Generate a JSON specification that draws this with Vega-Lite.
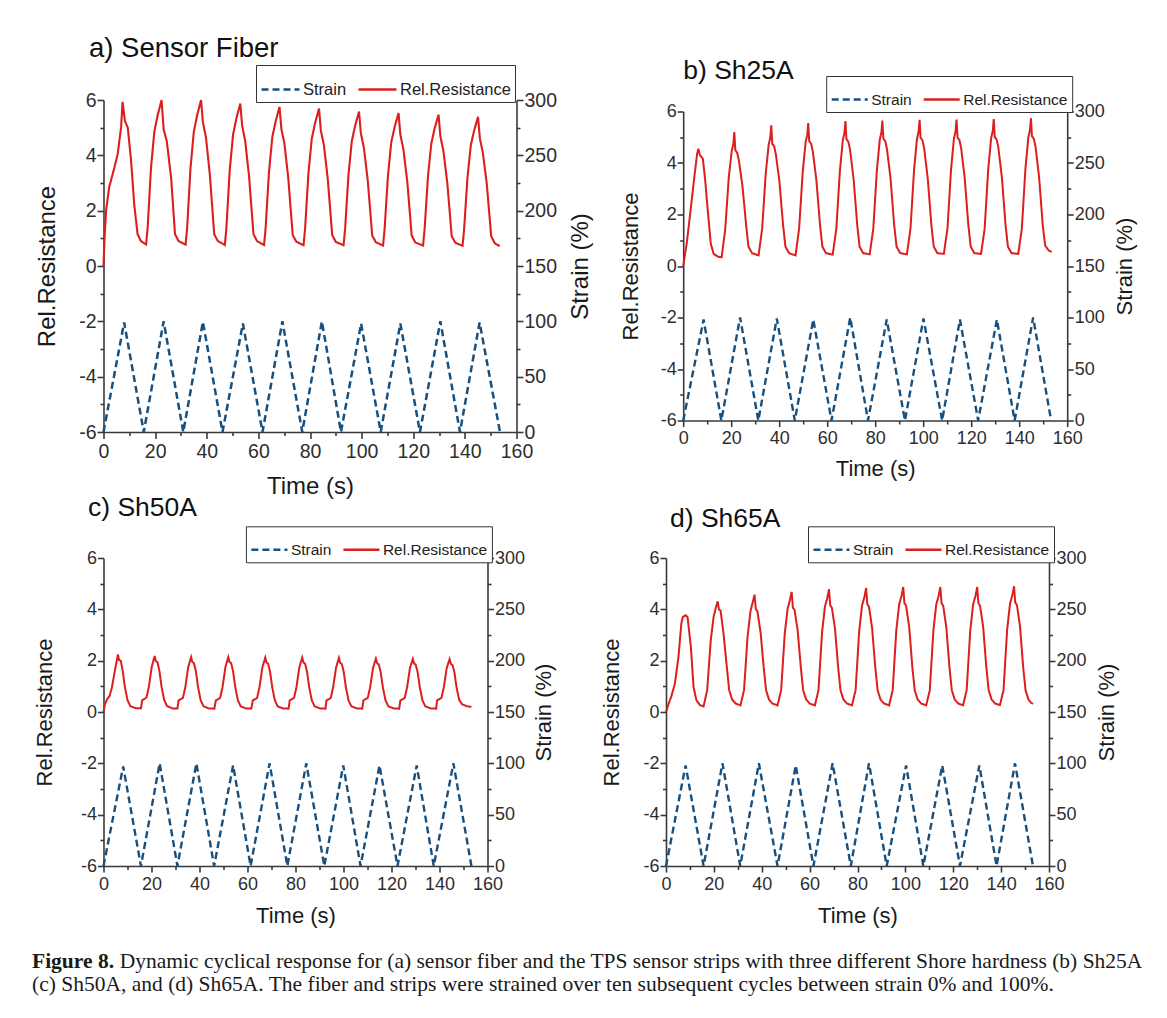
{
  "$schema": "https://vega.github.io/schema/vega-lite/v6.json",
  "padding": {"left": 31.5, "top": 34, "right": 5, "bottom": 5},
  "background": "white",
  "datasets": {
    "ra": [{"t":0,"v":0},{"t":0.4,"v":1.0},{"t":1.0,"v":2.0},{"t":2.2,"v":2.85},{"t":4.2,"v":3.55},{"t":5.5,"v":4.05},{"t":6.8,"v":5.0},{"t":7.4,"v":5.93},{"t":8.3,"v":5.24},{"t":9.4,"v":5.0},{"t":10.7,"v":3.8},{"t":11.9,"v":2.23},{"t":13.2,"v":1.15},{"t":14.5,"v":0.9},{"t":16.5,"v":0.78},
      {"t":17.1,"v":1.38},{"t":18.4,"v":3.55},{"t":19.7,"v":4.86},{"t":21.0,"v":5.46},{"t":22.5,"v":6.0},{"t":23.3,"v":4.94},{"t":24.5,"v":4.52},{"t":26.2,"v":3.19},{"t":27.7,"v":1.15},{"t":29.1,"v":0.9},{"t":31.8,"v":0.77},
      {"t":32.4,"v":1.37},{"t":33.7,"v":3.54},{"t":35.0,"v":4.86},{"t":36.3,"v":5.46},{"t":37.8,"v":6.0},{"t":38.5,"v":5.2},{"t":39.7,"v":4.65},{"t":41.2,"v":3.3},{"t":42.9,"v":1.15},{"t":44.3,"v":0.9},{"t":47.0,"v":0.76},
      {"t":47.6,"v":1.36},{"t":48.9,"v":3.46},{"t":50.2,"v":4.75},{"t":51.5,"v":5.34},{"t":53.0,"v":5.87},{"t":53.7,"v":5.08},{"t":54.9,"v":4.52},{"t":56.4,"v":3.23},{"t":58.1,"v":1.15},{"t":59.5,"v":0.9},{"t":62.2,"v":0.76},
      {"t":62.8,"v":1.36},{"t":64.1,"v":3.39},{"t":65.4,"v":4.66},{"t":66.7,"v":5.23},{"t":68.2,"v":5.75},{"t":68.9,"v":4.96},{"t":70.1,"v":4.42},{"t":71.6,"v":3.16},{"t":73.3,"v":1.12},{"t":74.7,"v":0.88},{"t":77.5,"v":0.75},
      {"t":78.1,"v":1.35},{"t":79.4,"v":3.36},{"t":80.7,"v":4.61},{"t":82.0,"v":5.18},{"t":83.5,"v":5.69},{"t":84.2,"v":4.9},{"t":85.4,"v":4.36},{"t":86.9,"v":3.13},{"t":88.6,"v":1.12},{"t":90.0,"v":0.87},{"t":93.0,"v":0.75},
      {"t":93.6,"v":1.34},{"t":94.9,"v":3.29},{"t":96.2,"v":4.52},{"t":97.5,"v":5.08},{"t":99.0,"v":5.58},{"t":99.7,"v":4.8},{"t":100.9,"v":4.26},{"t":102.4,"v":3.07},{"t":104.1,"v":1.1},{"t":105.5,"v":0.86},{"t":108.3,"v":0.74},
      {"t":108.9,"v":1.33},{"t":110.2,"v":3.26},{"t":111.5,"v":4.48},{"t":112.8,"v":5.03},{"t":114.3,"v":5.53},{"t":115.0,"v":4.75},{"t":116.2,"v":4.21},{"t":117.7,"v":3.04},{"t":119.4,"v":1.1},{"t":120.8,"v":0.85},{"t":123.8,"v":0.74},
      {"t":124.4,"v":1.33},{"t":125.7,"v":3.23},{"t":127.0,"v":4.43},{"t":128.3,"v":4.98},{"t":129.8,"v":5.47},{"t":130.5,"v":4.7},{"t":131.7,"v":4.15},{"t":133.2,"v":3.0},{"t":134.9,"v":1.08},{"t":136.3,"v":0.84},{"t":139.1,"v":0.73},
      {"t":139.7,"v":1.32},{"t":141.0,"v":3.18},{"t":142.3,"v":4.37},{"t":143.6,"v":4.9},{"t":145.1,"v":5.39},{"t":145.8,"v":4.62},{"t":147.0,"v":4.07},{"t":148.5,"v":2.96},{"t":150.2,"v":1.08},{"t":151.6,"v":0.82},{"t":153.5,"v":0.72}],
    "sa": [{"t":0,"v":0},{"t":8.0,"v":99},{"t":15.6,"v":0},{"t":23.3,"v":100},{"t":30.9,"v":0},{"t":38.5,"v":99.5},{"t":46.1,"v":0},{"t":54.0,"v":98},{"t":61.6,"v":0},{"t":69.3,"v":100},{"t":77.0,"v":0},{"t":84.6,"v":100},{"t":92.0,"v":0},{"t":99.8,"v":98},{"t":107.4,"v":0},{"t":115.0,"v":98},{"t":122.6,"v":0},{"t":130.5,"v":100},{"t":138.1,"v":0},{"t":145.7,"v":99},{"t":153.6,"v":0}],
    "rb": [{"t":0,"v":0},{"t":1.5,"v":0.9},{"t":3.0,"v":2.1},{"t":4.8,"v":3.58},{"t":5.8,"v":4.36},{"t":6.3,"v":4.55},{"t":7.0,"v":4.3},{"t":8.2,"v":4.16},{"t":9.2,"v":3.3},{"t":10.0,"v":2.4},{"t":11.5,"v":0.86},{"t":12.7,"v":0.47},{"t":14.5,"v":0.36},{"t":16.0,"v":0.34},
      {"t":17.5,"v":1.4},{"t":19.0,"v":3.45},{"t":20.2,"v":4.45},{"t":20.9,"v":4.75},{"t":21.3,"v":5.2},{"t":21.7,"v":4.5},{"t":22.5,"v":4.4},{"t":23.2,"v":4.1},{"t":24.7,"v":3.1},{"t":26.2,"v":1.6},{"t":27.2,"v":0.75},{"t":28.7,"v":0.5},{"t":31.4,"v":0.41},
      {"t":32.9,"v":1.45},{"t":34.4,"v":3.6},{"t":35.6,"v":4.7},{"t":36.3,"v":5.0},{"t":36.7,"v":5.46},{"t":37.1,"v":4.75},{"t":37.9,"v":4.65},{"t":38.6,"v":4.35},{"t":40.1,"v":3.28},{"t":41.6,"v":1.6},{"t":42.6,"v":0.75},{"t":44.1,"v":0.5},{"t":46.8,"v":0.41},
      {"t":48.3,"v":1.45},{"t":49.8,"v":3.65},{"t":51.0,"v":4.8},{"t":51.7,"v":5.1},{"t":52.1,"v":5.55},{"t":52.5,"v":4.85},{"t":53.3,"v":4.75},{"t":54.0,"v":4.45},{"t":55.5,"v":3.33},{"t":57.0,"v":1.6},{"t":58.0,"v":0.75},{"t":59.5,"v":0.5},{"t":62.3,"v":0.44},
      {"t":63.8,"v":1.45},{"t":65.3,"v":3.7},{"t":66.5,"v":4.88},{"t":67.2,"v":5.18},{"t":67.6,"v":5.63},{"t":68.0,"v":4.93},{"t":68.8,"v":4.83},{"t":69.5,"v":4.53},{"t":71.0,"v":3.38},{"t":72.5,"v":1.6},{"t":73.5,"v":0.75},{"t":75.0,"v":0.5},{"t":77.7,"v":0.45},
      {"t":79.2,"v":1.45},{"t":80.7,"v":3.72},{"t":81.9,"v":4.9},{"t":82.6,"v":5.2},{"t":83.0,"v":5.65},{"t":83.4,"v":4.95},{"t":84.2,"v":4.85},{"t":84.9,"v":4.55},{"t":86.4,"v":3.39},{"t":87.9,"v":1.6},{"t":88.9,"v":0.75},{"t":90.4,"v":0.5},{"t":93.2,"v":0.45},
      {"t":94.7,"v":1.45},{"t":96.2,"v":3.74},{"t":97.4,"v":4.93},{"t":98.1,"v":5.23},{"t":98.5,"v":5.68},{"t":98.9,"v":4.98},{"t":99.7,"v":4.88},{"t":100.4,"v":4.58},{"t":101.9,"v":3.4},{"t":103.4,"v":1.6},{"t":104.4,"v":0.75},{"t":105.9,"v":0.5},{"t":108.6,"v":0.47},
      {"t":110.1,"v":1.45},{"t":111.6,"v":3.75},{"t":112.8,"v":4.94},{"t":113.5,"v":5.24},{"t":113.9,"v":5.69},{"t":114.3,"v":4.99},{"t":115.1,"v":4.89},{"t":115.8,"v":4.59},{"t":117.3,"v":3.41},{"t":118.8,"v":1.6},{"t":119.8,"v":0.75},{"t":121.3,"v":0.5},{"t":124.1,"v":0.47},
      {"t":125.6,"v":1.45},{"t":127.1,"v":3.77},{"t":128.3,"v":4.96},{"t":129.0,"v":5.26},{"t":129.4,"v":5.71},{"t":129.8,"v":5.01},{"t":130.6,"v":4.91},{"t":131.3,"v":4.61},{"t":132.8,"v":3.43},{"t":134.3,"v":1.6},{"t":135.3,"v":0.75},{"t":136.8,"v":0.5},{"t":139.6,"v":0.47},
      {"t":141.1,"v":1.45},{"t":142.6,"v":3.79},{"t":143.8,"v":4.99},{"t":144.5,"v":5.29},{"t":144.9,"v":5.74},{"t":145.3,"v":5.04},{"t":146.1,"v":4.94},{"t":146.8,"v":4.64},{"t":148.3,"v":3.44},{"t":149.8,"v":1.6},{"t":150.8,"v":0.8},{"t":152.3,"v":0.6},{"t":153.5,"v":0.55}],
    "sb": [{"t":0,"v":0},{"t":8.5,"v":98},{"t":15.9,"v":0},{"t":23.7,"v":100},{"t":31.3,"v":0},{"t":39.0,"v":99},{"t":46.5,"v":0},{"t":54.2,"v":98},{"t":61.8,"v":0},{"t":69.6,"v":100},{"t":77.0,"v":0},{"t":84.8,"v":98},{"t":92.4,"v":0},{"t":100.1,"v":99},{"t":107.9,"v":0},{"t":115.3,"v":98},{"t":122.9,"v":0},{"t":130.7,"v":98},{"t":138.1,"v":0},{"t":145.8,"v":100},{"t":153.3,"v":0}],
    "rc": [{"t":0,"v":0},{"t":0.6,"v":0.3},{"t":1.5,"v":0.5},{"t":2.5,"v":0.62},{"t":3.5,"v":0.95},{"t":4.8,"v":1.65},{"t":6.0,"v":2.24},{"t":6.5,"v":2.02},{"t":7.2,"v":2.0},{"t":8.0,"v":1.6},{"t":8.9,"v":0.98},{"t":10.0,"v":0.46},{"t":11.2,"v":0.23},{"t":13.4,"v":0.15},{"t":15.6,"v":0.14},
      {"t":16.1,"v":0.46},{"t":17.9,"v":0.56},{"t":18.9,"v":0.98},{"t":20.1,"v":1.76},{"t":21.3,"v":2.18},{"t":21.8,"v":1.98},{"t":22.5,"v":1.94},{"t":23.3,"v":1.6},{"t":24.2,"v":0.98},{"t":25.3,"v":0.46},{"t":26.5,"v":0.23},{"t":28.7,"v":0.14},{"t":30.8,"v":0.14},
      {"t":31.3,"v":0.45},{"t":33.1,"v":0.55},{"t":34.1,"v":0.97},{"t":35.3,"v":1.75},{"t":36.5,"v":2.14},{"t":37.0,"v":1.95},{"t":37.7,"v":1.9},{"t":38.5,"v":1.58},{"t":39.4,"v":0.97},{"t":40.5,"v":0.45},{"t":41.7,"v":0.22},{"t":43.9,"v":0.14},{"t":46.2,"v":0.13},
      {"t":46.8,"v":0.45},{"t":48.6,"v":0.55},{"t":49.6,"v":0.97},{"t":50.8,"v":1.75},{"t":52.0,"v":2.14},{"t":52.5,"v":1.95},{"t":53.2,"v":1.9},{"t":54.0,"v":1.58},{"t":54.9,"v":0.97},{"t":56.0,"v":0.45},{"t":57.2,"v":0.22},{"t":59.4,"v":0.14},{"t":61.6,"v":0.13},
      {"t":62.2,"v":0.45},{"t":64.0,"v":0.55},{"t":65.0,"v":0.97},{"t":66.2,"v":1.74},{"t":67.4,"v":2.12},{"t":67.9,"v":1.93},{"t":68.6,"v":1.88},{"t":69.4,"v":1.57},{"t":70.3,"v":0.97},{"t":71.4,"v":0.45},{"t":72.6,"v":0.22},{"t":74.8,"v":0.14},{"t":77.1,"v":0.13},
      {"t":77.6,"v":0.45},{"t":79.4,"v":0.55},{"t":80.4,"v":0.97},{"t":81.6,"v":1.74},{"t":82.8,"v":2.12},{"t":83.3,"v":1.93},{"t":84.0,"v":1.88},{"t":84.8,"v":1.57},{"t":85.7,"v":0.97},{"t":86.8,"v":0.45},{"t":88.0,"v":0.22},{"t":90.2,"v":0.14},{"t":92.5,"v":0.13},
      {"t":92.9,"v":0.45},{"t":94.7,"v":0.55},{"t":95.7,"v":0.97},{"t":96.9,"v":1.73},{"t":98.1,"v":2.11},{"t":98.6,"v":1.92},{"t":99.3,"v":1.87},{"t":100.1,"v":1.56},{"t":101.0,"v":0.96},{"t":102.1,"v":0.45},{"t":103.3,"v":0.22},{"t":105.5,"v":0.14},{"t":107.8,"v":0.13},
      {"t":108.3,"v":0.45},{"t":110.1,"v":0.55},{"t":111.1,"v":0.96},{"t":112.3,"v":1.72},{"t":113.5,"v":2.08},{"t":114.0,"v":1.9},{"t":114.7,"v":1.85},{"t":115.5,"v":1.55},{"t":116.4,"v":0.96},{"t":117.5,"v":0.45},{"t":118.7,"v":0.22},{"t":120.9,"v":0.14},{"t":123.2,"v":0.13},
      {"t":123.7,"v":0.45},{"t":125.5,"v":0.55},{"t":126.5,"v":0.96},{"t":127.7,"v":1.72},{"t":128.9,"v":2.07},{"t":129.4,"v":1.89},{"t":130.1,"v":1.84},{"t":130.9,"v":1.55},{"t":131.8,"v":0.96},{"t":132.9,"v":0.45},{"t":134.1,"v":0.22},{"t":136.3,"v":0.14},{"t":138.6,"v":0.13},
      {"t":139.0,"v":0.45},{"t":140.8,"v":0.55},{"t":141.8,"v":0.96},{"t":143.0,"v":1.71},{"t":144.2,"v":2.06},{"t":144.7,"v":1.88},{"t":145.4,"v":1.83},{"t":146.2,"v":1.55},{"t":147.1,"v":0.96},{"t":148.2,"v":0.47},{"t":149.4,"v":0.3},{"t":151.5,"v":0.22},{"t":153.3,"v":0.2}],
    "sc": [{"t":0,"v":0},{"t":8.2,"v":97},{"t":15.6,"v":0},{"t":23.4,"v":100},{"t":30.8,"v":0},{"t":38.7,"v":100},{"t":46.1,"v":0},{"t":54.0,"v":98},{"t":61.3,"v":0},{"t":69.2,"v":100},{"t":76.6,"v":0},{"t":84.5,"v":100},{"t":92.0,"v":0},{"t":99.9,"v":98},{"t":107.1,"v":0},{"t":115.0,"v":98},{"t":122.5,"v":0},{"t":130.5,"v":98},{"t":137.6,"v":0},{"t":145.8,"v":100},{"t":153.3,"v":0}],
    "rd": [{"t":0,"v":0},{"t":1.2,"v":0.35},{"t":2.2,"v":0.6},{"t":3.7,"v":1.1},{"t":5.2,"v":2.14},{"t":6.4,"v":3.44},{"t":7.0,"v":3.7},{"t":8.2,"v":3.77},{"t":9.0,"v":3.7},{"t":10.4,"v":2.53},{"t":11.5,"v":0.98},{"t":12.7,"v":0.46},{"t":14.2,"v":0.27},{"t":15.7,"v":0.22},
      {"t":17.2,"v":0.85},{"t":18.7,"v":2.8},{"t":19.9,"v":3.71},{"t":20.9,"v":4.1},{"t":21.6,"v":4.31},{"t":22.1,"v":4.0},{"t":22.8,"v":3.95},{"t":24.1,"v":3.0},{"t":25.4,"v":1.76},{"t":26.4,"v":0.85},{"t":27.6,"v":0.49},{"t":29.1,"v":0.33},{"t":31.1,"v":0.26},
      {"t":32.6,"v":0.85},{"t":34.1,"v":2.97},{"t":35.3,"v":3.93},{"t":36.3,"v":4.3},{"t":37.0,"v":4.57},{"t":37.5,"v":4.02},{"t":38.2,"v":3.92},{"t":39.5,"v":3.11},{"t":40.8,"v":1.76},{"t":41.8,"v":0.85},{"t":43.0,"v":0.49},{"t":44.5,"v":0.33},{"t":46.6,"v":0.26},
      {"t":48.1,"v":0.85},{"t":49.6,"v":3.04},{"t":50.8,"v":4.02},{"t":51.8,"v":4.38},{"t":52.5,"v":4.68},{"t":53.0,"v":4.07},{"t":53.7,"v":3.98},{"t":55.0,"v":3.18},{"t":56.3,"v":1.76},{"t":57.3,"v":0.85},{"t":58.5,"v":0.49},{"t":60.0,"v":0.33},{"t":62.2,"v":0.26},
      {"t":63.7,"v":0.85},{"t":65.2,"v":3.11},{"t":66.4,"v":4.11},{"t":67.4,"v":4.45},{"t":68.1,"v":4.78},{"t":68.6,"v":4.16},{"t":69.3,"v":4.06},{"t":70.6,"v":3.25},{"t":71.9,"v":1.76},{"t":72.9,"v":0.85},{"t":74.1,"v":0.49},{"t":75.6,"v":0.33},{"t":77.7,"v":0.26},
      {"t":79.2,"v":0.85},{"t":80.7,"v":3.14},{"t":81.9,"v":4.15},{"t":82.9,"v":4.49},{"t":83.6,"v":4.83},{"t":84.1,"v":4.2},{"t":84.8,"v":4.1},{"t":86.1,"v":3.28},{"t":87.4,"v":1.76},{"t":88.4,"v":0.85},{"t":89.6,"v":0.49},{"t":91.1,"v":0.33},{"t":93.2,"v":0.26},
      {"t":94.7,"v":0.85},{"t":96.2,"v":3.17},{"t":97.4,"v":4.19},{"t":98.4,"v":4.53},{"t":99.1,"v":4.87},{"t":99.6,"v":4.24},{"t":100.3,"v":4.14},{"t":101.6,"v":3.31},{"t":102.9,"v":1.76},{"t":103.9,"v":0.85},{"t":105.1,"v":0.49},{"t":106.6,"v":0.33},{"t":108.7,"v":0.26},
      {"t":110.2,"v":0.85},{"t":111.7,"v":3.17},{"t":112.9,"v":4.19},{"t":113.9,"v":4.53},{"t":114.6,"v":4.87},{"t":115.1,"v":4.24},{"t":115.8,"v":4.14},{"t":117.1,"v":3.31},{"t":118.4,"v":1.76},{"t":119.4,"v":0.85},{"t":120.6,"v":0.49},{"t":122.1,"v":0.33},{"t":124.1,"v":0.26},
      {"t":125.6,"v":0.85},{"t":127.1,"v":3.17},{"t":128.3,"v":4.19},{"t":129.3,"v":4.53},{"t":130.0,"v":4.87},{"t":130.5,"v":4.24},{"t":131.2,"v":4.14},{"t":132.5,"v":3.31},{"t":133.8,"v":1.76},{"t":134.8,"v":0.85},{"t":136.0,"v":0.49},{"t":137.5,"v":0.33},{"t":139.5,"v":0.27},
      {"t":141.0,"v":0.85},{"t":142.5,"v":3.19},{"t":143.7,"v":4.21},{"t":144.7,"v":4.56},{"t":145.4,"v":4.9},{"t":145.9,"v":4.26},{"t":146.6,"v":4.17},{"t":147.9,"v":3.33},{"t":149.2,"v":1.76},{"t":150.2,"v":0.85},{"t":151.4,"v":0.49},{"t":152.5,"v":0.36},{"t":153.3,"v":0.32}],
    "sd": [{"t":0,"v":0},{"t":8.2,"v":98},{"t":15.7,"v":0},{"t":23.6,"v":100},{"t":31.0,"v":0},{"t":38.8,"v":100},{"t":46.6,"v":0},{"t":54.2,"v":98},{"t":61.6,"v":0},{"t":69.6,"v":100},{"t":77.2,"v":0},{"t":84.8,"v":100},{"t":92.2,"v":0},{"t":100.3,"v":98},{"t":107.5,"v":0},{"t":115.4,"v":98},{"t":122.8,"v":0},{"t":130.9,"v":98},{"t":138.1,"v":0},{"t":145.8,"v":100},{"t":153.3,"v":0}]
  },
  "vconcat": [
    {
      "hconcat": [
        {
          "width": 413, "height": 332,
          "title": {"text": "a) Sensor Fiber", "anchor": "start", "frame": "group", "dx": -14.5, "offset": 2.5, "fontSize": 27.5},
          "layer": [
            {"data": {"name": "ra"}, "mark": {"type": "line", "strokeWidth": 2.1},
             "encoding": {
               "x": {"field": "t", "type": "quantitative", "scale": {"domain": [0, 160], "nice": false},
                     "axis": {"title": "Time (s)", "values": [0,10,20,30,40,50,60,70,80,90,100,110,120,130,140,150,160], "labelExpr": "datum.value % 20 === 0 ? '' + datum.value : ''", "tickSize": {"condition": {"test": "datum.value % 20 === 0", "value": 6.5}, "value": 3.5}, "labelFontSize": 19.5, "labelPadding": 4, "titleFontSize": 24, "titlePadding": 13}},
               "y": {"field": "v", "type": "quantitative", "scale": {"domain": [-6, 6], "nice": false},
                     "axis": {"orient": "left", "title": "Rel.Resistance", "values": [-6,-5,-4,-3,-2,-1,0,1,2,3,4,5,6], "labelExpr": "datum.value % 2 === 0 ? '' + datum.value : ''", "tickSize": {"condition": {"test": "datum.value % 2 === 0", "value": 6.5}, "value": 3.5}, "labelFontSize": 19.5, "titleFontSize": 24, "titlePadding": 19.5}},
               "color": {"datum": "Rel.Resistance", "type": "nominal", "scale": {"domain": ["Strain", "Rel.Resistance"], "range": ["#17507f", "#dc1e1e"]}, "legend": {"orient": "none", "legendX": 152.5, "legendY": -35, "labelFontSize": 16.5, "symbolSize": 1444}},
               "strokeDash": {"datum": "Rel.Resistance", "type": "nominal", "scale": {"domain": ["Strain", "Rel.Resistance"], "range": [[7, 4], [1, 0]]}, "legend": {"orient": "none", "legendX": 152.5, "legendY": -35, "labelFontSize": 16.5, "symbolSize": 1444}}
             }},
            {"data": {"name": "sa"}, "mark": {"type": "line", "strokeWidth": 2.5},
             "encoding": {
               "x": {"field": "t", "type": "quantitative", "scale": {"domain": [0, 160], "nice": false},
                     "axis": {"title": "Time (s)", "values": [0,10,20,30,40,50,60,70,80,90,100,110,120,130,140,150,160], "labelExpr": "datum.value % 20 === 0 ? '' + datum.value : ''", "tickSize": {"condition": {"test": "datum.value % 20 === 0", "value": 6.5}, "value": 3.5}, "labelFontSize": 19.5, "labelPadding": 4, "titleFontSize": 24, "titlePadding": 13}},
               "y": {"field": "v", "type": "quantitative", "scale": {"domain": [0, 300], "nice": false},
                     "axis": {"orient": "right", "title": "Strain (%)", "titleAngle": 270, "titleBaseline": "top", "values": [0,25,50,75,100,125,150,175,200,225,250,275,300], "labelExpr": "datum.value % 50 === 0 ? '' + datum.value : ''", "tickSize": {"condition": {"test": "datum.value % 50 === 0", "value": 6.5}, "value": 3.5}, "labelFontSize": 19.5, "titleFontSize": 24, "titlePadding": 12}},
               "color": {"datum": "Strain", "type": "nominal", "scale": {"domain": ["Strain", "Rel.Resistance"], "range": ["#17507f", "#dc1e1e"]}, "legend": {"orient": "none", "legendX": 152.5, "legendY": -35, "labelFontSize": 16.5, "symbolSize": 1444}},
               "strokeDash": {"datum": "Strain", "type": "nominal", "scale": {"domain": ["Strain", "Rel.Resistance"], "range": [[7, 4], [1, 0]]}, "legend": {"orient": "none", "legendX": 152.5, "legendY": -35, "labelFontSize": 16.5, "symbolSize": 1444}}
             }}
          ],
          "resolve": {"scale": {"y": "independent"}}
        },
        {
          "width": 384, "height": 309,
          "title": {"text": "b) Sh25A", "anchor": "start", "frame": "group", "dx": 0, "offset": -9, "fontSize": 26.5},
          "layer": [
            {"data": {"name": "rb"}, "mark": {"type": "line", "strokeWidth": 2},
             "encoding": {
               "x": {"field": "t", "type": "quantitative", "scale": {"domain": [0, 160], "nice": false},
                     "axis": {"title": "Time (s)", "values": [0,10,20,30,40,50,60,70,80,90,100,110,120,130,140,150,160], "labelExpr": "datum.value % 20 === 0 ? '' + datum.value : ''", "tickSize": {"condition": {"test": "datum.value % 20 === 0", "value": 6}, "value": 3.5}, "labelPadding": 3, "titlePadding": 11}},
               "y": {"field": "v", "type": "quantitative", "scale": {"domain": [-6, 6], "nice": false},
                     "axis": {"orient": "left", "title": "Rel.Resistance", "values": [-6,-5,-4,-3,-2,-1,0,1,2,3,4,5,6], "labelExpr": "datum.value % 2 === 0 ? '' + datum.value : ''", "tickSize": {"condition": {"test": "datum.value % 2 === 0", "value": 6}, "value": 3.5}, "titlePadding": 18}},
               "color": {"datum": "Rel.Resistance", "type": "nominal", "scale": {"domain": ["Strain", "Rel.Resistance"], "range": ["#17507f", "#dc1e1e"]}, "legend": {"orient": "none", "legendX": 143, "legendY": -35.5}},
               "strokeDash": {"datum": "Rel.Resistance", "type": "nominal", "scale": {"domain": ["Strain", "Rel.Resistance"], "range": [[7, 4], [1, 0]]}, "legend": {"orient": "none", "legendX": 143, "legendY": -35.5}}
             }},
            {"data": {"name": "sb"}, "mark": {"type": "line", "strokeWidth": 2.4},
             "encoding": {
               "x": {"field": "t", "type": "quantitative", "scale": {"domain": [0, 160], "nice": false},
                     "axis": {"title": "Time (s)", "values": [0,10,20,30,40,50,60,70,80,90,100,110,120,130,140,150,160], "labelExpr": "datum.value % 20 === 0 ? '' + datum.value : ''", "tickSize": {"condition": {"test": "datum.value % 20 === 0", "value": 6}, "value": 3.5}, "labelPadding": 3, "titlePadding": 11}},
               "y": {"field": "v", "type": "quantitative", "scale": {"domain": [0, 300], "nice": false},
                     "axis": {"orient": "right", "title": "Strain (%)", "titleAngle": 270, "titleBaseline": "top", "values": [0,25,50,75,100,125,150,175,200,225,250,275,300], "labelExpr": "datum.value % 50 === 0 ? '' + datum.value : ''", "tickSize": {"condition": {"test": "datum.value % 50 === 0", "value": 6}, "value": 3.5}, "titlePadding": 10}},
               "color": {"datum": "Strain", "type": "nominal", "scale": {"domain": ["Strain", "Rel.Resistance"], "range": ["#17507f", "#dc1e1e"]}, "legend": {"orient": "none", "legendX": 143, "legendY": -35.5}},
               "strokeDash": {"datum": "Strain", "type": "nominal", "scale": {"domain": ["Strain", "Rel.Resistance"], "range": [[7, 4], [1, 0]]}, "legend": {"orient": "none", "legendX": 143, "legendY": -35.5}}
             }}
          ],
          "resolve": {"scale": {"y": "independent"}}
        }
      ],
      "spacing": 166.7,
      "bounds": "flush",
      "center": true,
      "resolve": {"scale": {"color": "independent", "strokeDash": "independent"}}
    },
    {
      "hconcat": [
        {
          "width": 384, "height": 308,
          "title": {"text": "c) Sh50A", "anchor": "start", "frame": "group", "dx": -15.5, "offset": 4, "fontSize": 26.5},
          "layer": [
            {"data": {"name": "rc"}, "mark": {"type": "line", "strokeWidth": 2},
             "encoding": {
               "x": {"field": "t", "type": "quantitative", "scale": {"domain": [0, 160], "nice": false},
                     "axis": {"title": "Time (s)", "values": [0,10,20,30,40,50,60,70,80,90,100,110,120,130,140,150,160], "labelExpr": "datum.value % 20 === 0 ? '' + datum.value : ''", "tickSize": {"condition": {"test": "datum.value % 20 === 0", "value": 6}, "value": 3.5}, "labelPadding": 3, "titlePadding": 12}},
               "y": {"field": "v", "type": "quantitative", "scale": {"domain": [-6, 6], "nice": false},
                     "axis": {"orient": "left", "title": "Rel.Resistance", "values": [-6,-5,-4,-3,-2,-1,0,1,2,3,4,5,6], "labelExpr": "datum.value % 2 === 0 ? '' + datum.value : ''", "tickSize": {"condition": {"test": "datum.value % 2 === 0", "value": 6}, "value": 3.5}, "titlePadding": 24}},
               "color": {"datum": "Rel.Resistance", "type": "nominal", "scale": {"domain": ["Strain", "Rel.Resistance"], "range": ["#17507f", "#dc1e1e"]}, "legend": {"orient": "none", "legendX": 142.4, "legendY": -31.7}},
               "strokeDash": {"datum": "Rel.Resistance", "type": "nominal", "scale": {"domain": ["Strain", "Rel.Resistance"], "range": [[7, 4], [1, 0]]}, "legend": {"orient": "none", "legendX": 142.4, "legendY": -31.7}}
             }},
            {"data": {"name": "sc"}, "mark": {"type": "line", "strokeWidth": 2.4},
             "encoding": {
               "x": {"field": "t", "type": "quantitative", "scale": {"domain": [0, 160], "nice": false},
                     "axis": {"title": "Time (s)", "values": [0,10,20,30,40,50,60,70,80,90,100,110,120,130,140,150,160], "labelExpr": "datum.value % 20 === 0 ? '' + datum.value : ''", "tickSize": {"condition": {"test": "datum.value % 20 === 0", "value": 6}, "value": 3.5}, "labelPadding": 3, "titlePadding": 12}},
               "y": {"field": "v", "type": "quantitative", "scale": {"domain": [0, 300], "nice": false},
                     "axis": {"orient": "right", "title": "Strain (%)", "titleAngle": 270, "titleBaseline": "top", "values": [0,25,50,75,100,125,150,175,200,225,250,275,300], "labelExpr": "datum.value % 50 === 0 ? '' + datum.value : ''", "tickSize": {"condition": {"test": "datum.value % 50 === 0", "value": 6}, "value": 3.5}, "titlePadding": 9}},
               "color": {"datum": "Strain", "type": "nominal", "scale": {"domain": ["Strain", "Rel.Resistance"], "range": ["#17507f", "#dc1e1e"]}, "legend": {"orient": "none", "legendX": 142.4, "legendY": -31.7}},
               "strokeDash": {"datum": "Strain", "type": "nominal", "scale": {"domain": ["Strain", "Rel.Resistance"], "range": [[7, 4], [1, 0]]}, "legend": {"orient": "none", "legendX": 142.4, "legendY": -31.7}}
             }}
          ],
          "resolve": {"scale": {"y": "independent"}}
        },
        {
          "width": 383, "height": 308,
          "title": {"text": "d) Sh65A", "anchor": "start", "frame": "group", "dx": 4, "offset": -7, "fontSize": 26.5},
          "layer": [
            {"data": {"name": "rd"}, "mark": {"type": "line", "strokeWidth": 2},
             "encoding": {
               "x": {"field": "t", "type": "quantitative", "scale": {"domain": [0, 160], "nice": false},
                     "axis": {"title": "Time (s)", "values": [0,10,20,30,40,50,60,70,80,90,100,110,120,130,140,150,160], "labelExpr": "datum.value % 20 === 0 ? '' + datum.value : ''", "tickSize": {"condition": {"test": "datum.value % 20 === 0", "value": 6}, "value": 3.5}, "labelPadding": 3, "titlePadding": 12}},
               "y": {"field": "v", "type": "quantitative", "scale": {"domain": [-6, 6], "nice": false},
                     "axis": {"orient": "left", "title": "Rel.Resistance", "values": [-6,-5,-4,-3,-2,-1,0,1,2,3,4,5,6], "labelExpr": "datum.value % 2 === 0 ? '' + datum.value : ''", "tickSize": {"condition": {"test": "datum.value % 2 === 0", "value": 6}, "value": 3.5}, "titlePadding": 19.5}},
               "color": {"datum": "Rel.Resistance", "type": "nominal", "scale": {"domain": ["Strain", "Rel.Resistance"], "range": ["#17507f", "#dc1e1e"]}, "legend": {"orient": "none", "legendX": 142, "legendY": -31.7}},
               "strokeDash": {"datum": "Rel.Resistance", "type": "nominal", "scale": {"domain": ["Strain", "Rel.Resistance"], "range": [[7, 4], [1, 0]]}, "legend": {"orient": "none", "legendX": 142, "legendY": -31.7}}
             }},
            {"data": {"name": "sd"}, "mark": {"type": "line", "strokeWidth": 2.4},
             "encoding": {
               "x": {"field": "t", "type": "quantitative", "scale": {"domain": [0, 160], "nice": false},
                     "axis": {"title": "Time (s)", "values": [0,10,20,30,40,50,60,70,80,90,100,110,120,130,140,150,160], "labelExpr": "datum.value % 20 === 0 ? '' + datum.value : ''", "tickSize": {"condition": {"test": "datum.value % 20 === 0", "value": 6}, "value": 3.5}, "labelPadding": 3, "titlePadding": 12}},
               "y": {"field": "v", "type": "quantitative", "scale": {"domain": [0, 300], "nice": false},
                     "axis": {"orient": "right", "title": "Strain (%)", "titleAngle": 270, "titleBaseline": "top", "values": [0,25,50,75,100,125,150,175,200,225,250,275,300], "labelExpr": "datum.value % 50 === 0 ? '' + datum.value : ''", "tickSize": {"condition": {"test": "datum.value % 50 === 0", "value": 6}, "value": 3.5}, "titlePadding": 10}},
               "color": {"datum": "Strain", "type": "nominal", "scale": {"domain": ["Strain", "Rel.Resistance"], "range": ["#17507f", "#dc1e1e"]}, "legend": {"orient": "none", "legendX": 142, "legendY": -31.7}},
               "strokeDash": {"datum": "Strain", "type": "nominal", "scale": {"domain": ["Strain", "Rel.Resistance"], "range": [[7, 4], [1, 0]]}, "legend": {"orient": "none", "legendX": 142, "legendY": -31.7}}
             }}
          ],
          "resolve": {"scale": {"y": "independent"}}
        }
      ],
      "spacing": 178.5,
      "bounds": "flush",
      "resolve": {"scale": {"color": "independent", "strokeDash": "independent"}},
      "title": {
        "text": "Figure 8.",
        "subtitle": "(c) Sh50A, and (d) Sh65A. The fiber and strips were strained over ten subsequent cycles between strain 0% and 100%.",
        "orient": "bottom", "anchor": "start", "frame": "group", "dx": -71.5, "offset": 25,
        "font": "Liberation Serif", "fontSize": 21.5, "fontWeight": "bold", "color": "#1a1a1a",
        "subtitleFont": "Liberation Serif", "subtitleFontSize": 21.5, "subtitleFontWeight": "normal", "subtitleColor": "#1a1a1a",
        "subtitlePadding": 1.5
      }
    }
  ],
  "spacing": -3,
  "resolve": {"scale": {"color": "independent", "strokeDash": "independent"}},
  "title": {
    "text": "Dynamic cyclical response for (a) sensor fiber and the TPS sensor strips with three different Shore hardness (b) Sh25A",
    "orient": "bottom", "anchor": "start", "frame": "group", "dx": 16.3, "offset": -44.5,
    "font": "Liberation Serif", "fontSize": 21.5, "fontWeight": "normal", "color": "#1a1a1a"
  },
  "config": {
    "font": "Liberation Sans",
    "view": {"stroke": null},
    "axis": {"grid": false, "domainColor": "#3a3a3a", "domainWidth": 1.6, "tickColor": "#3a3a3a", "tickWidth": 1.6,
             "labelColor": "#2e2e2e", "titleColor": "#1a1a1a", "titleFontWeight": "normal", "labelFont": "Liberation Sans", "titleFont": "Liberation Sans",
             "labelFontSize": 18, "titleFontSize": 22, "labelPadding": 1,
             "labelFlush": false, "labelOverlap": false, "labelBound": false},
    "legend": {"title": null, "direction": "horizontal", "strokeColor": "#333", "fillColor": "white", "padding": 4,
               "symbolType": "stroke", "symbolSize": 1296, "symbolStrokeWidth": 2.5, "labelFont": "Liberation Sans", "labelFontSize": 15.5,
               "labelColor": "#222", "columnPadding": 6, "labelOffset": 2},
    "title": {"font": "Liberation Sans", "fontWeight": "normal", "color": "#111", "baseline": "alphabetic"}
  }
}
